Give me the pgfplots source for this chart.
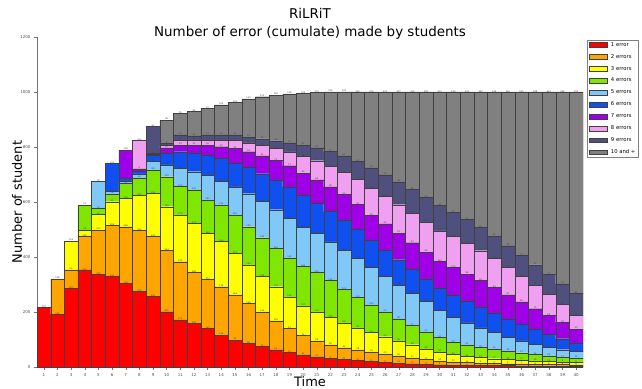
\documentclass[border=0pt]{standalone}
\usepackage{pgfplots}
\pgfplotsset{compat=1.18}
\usepackage{pgfplotstable}
\usepackage{fontspec}
\setmainfont{DejaVu Sans}

% one colour per error count
\definecolor{e1}{HTML}{FF0000}
\definecolor{e2}{HTML}{FFA500}
\definecolor{e3}{HTML}{FFFF00}
\definecolor{e4}{HTML}{7FE600}
\definecolor{e5}{HTML}{80C8F8}
\definecolor{e6}{HTML}{1050F0}
\definecolor{e7}{HTML}{A000E8}
\definecolor{e8}{HTML}{F0A0F0}
\definecolor{e9}{HTML}{50507F}
\definecolor{e10}{HTML}{808080}

% students per number of errors made so far, at each time step
\pgfplotstableread{
t  s1  s2  s3  s4  s5  s6  s7  s8  s9  s10
1  218 0   0   0   0   0   0   0   0   0
2  192 128 0   0   0   0   0   0   0   0
3  287 66  105 0   0   0   0   0   0   0
4  353 123 22  91  0   0   0   0   0   0
5  338 160 57  22  97  0   0   0   0   0
6  330 186 85  28  9   103 0   0   0   0
7  304 206 103 55  7   10  104 0   0   0
8  274 224 127 62  15  10  8   105 0   0
9  256 218 158 84  31  22  4   4   97  0
10 201 224 158 109 43  42  20  8   8   85
11 171 212 170 103 66  61  24  18  19  78
12 159 186 177 122 66  67  30  18  15  90
13 141 177 168 121 91  73  36  18  19  97
14 116 176 164 133 86  84  42  24  19  109
15 98  164 151 140 102 86  54  30  19  118
16 86  146 139 139 120 95  58  32  21  139
17 74  126 130 140 132 101 65  38  24  153
18 63  105 124 140 140 108 71  44  28  166
19 53  87  115 142 143 115 77  50  33  178
20 44  71  107 144 141 118 80  61  41  189
21 37  58  105 145 140 110 85  70  47  201
22 31  49  100 134 141 110 90  74  55  216
23 27  43  90  123 142 110 93  79  61  232
24 24  38  80  112 141 105 92  91  65  252
25 21  34  71  100 137 97  92  98  74  276
26 17  30  63  90  130 95  95  100 79  301
27 14  26  55  80  123 92  97  103 83  327
28 12  21  48  71  116 87  97  106 88  354
29 10  17  39  62  110 82  98  109 90  383
30 8   14  32  53  98  80  100 110 93  412
31 7   12  26  45  90  82  100 113 87  438
32 6   11  22  41  80  80  98  112 87  463
33 6   9   19  38  70  76  96  109 85  492
34 5   8   17  35  60  72  93  105 81  524
35 5   7   16  30  50  67  87  100 78  560
36 4   7   14  27  43  60  82  93  75  595
37 4   6   12  24  37  54  75  86  74  628
38 3   6   11  20  32  48  68  77  72  663
39 3   6   9   17  28  40  59  66  74  698
40 3   5   9   15  24  32  50  50  80  732
}\errtable

\pgfplotsset{
  errbar/.style={fill=#1, draw=black!75, line width=0.3bp,
    legend image code/.code={\draw[##1, line width=0.3bp] (0bp,-2.4bp) rectangle (18bp,2.4bp);}},
}

\begin{document}
\begin{tikzpicture}
\begin{axis}[
  at={(0,0)}, anchor=south west,
  scale only axis, width=546bp, height=330bp,
  ybar stacked, bar width=1,
  xmin=0.5, xmax=40.5, ymin=0, ymax=1200,
  enlargelimits=false,
  xtick={1,...,40}, ytick={0,200,...,1200},
  axis x line*=bottom, axis y line*=left,
  axis line style={black!55, line width=0.6bp, -},
  tick style={black!55, line width=0.4bp},
  tick align=outside, major tick length=3bp,
  /pgf/number format/assume math mode=true,
  /pgf/number format/set thousands separator={},
  ticklabel style={font=\fontsize{4}{4}\selectfont, text=black!70},
  % each segment carries its own count, in tiny print on its top edge
  visualization depends on=rawy \as \segh,
  nodes near coords={\pgfmathfloatifflags{\pgfplotspointmeta}{0}{}{\pgfmathprintnumber{\pgfplotspointmeta}}},
  every node near coord/.append style={font=\fontsize{2.2}{2.4}\selectfont,
    text=black!75, anchor=center, inner sep=0pt, yshift={0.1372*\segh+1}},
  xlabel={Time}, ylabel={Number of student},
  label style={font=\fontsize{13}{15}\selectfont},
  x label style={at={(axis description cs:0.5,-0.0455)}, anchor=center},
  y label style={at={(axis description cs:-0.0366,0.5)}, anchor=center},
  title={RiLRiT\\Number of error (cumulate) made by students},
  title style={at={(axis description cs:0.5,1.021)}, anchor=center, align=center,
    font=\fontsize{13.5}{18}\selectfont},
  legend style={at={(axis description cs:1.0073,0.991)}, anchor=north west,
    draw=black!50, line width=0.4bp, fill=white,
    font=\fontsize{5.3}{6}\selectfont, inner sep=2bp, row sep=6.3bp,
    nodes={inner sep=0.5bp, text height=3.6bp, text depth=1bp},
    /tikz/every odd column/.append style={column sep=3bp}},
  legend cell align=left,
]
\addplot[errbar=e1]  table[x=t, y=s1]  {\errtable};
\addplot[errbar=e2]  table[x=t, y=s2]  {\errtable};
\addplot[errbar=e3]  table[x=t, y=s3]  {\errtable};
\addplot[errbar=e4]  table[x=t, y=s4]  {\errtable};
\addplot[errbar=e5]  table[x=t, y=s5]  {\errtable};
\addplot[errbar=e6]  table[x=t, y=s6]  {\errtable};
\addplot[errbar=e7]  table[x=t, y=s7]  {\errtable};
\addplot[errbar=e8]  table[x=t, y=s8]  {\errtable};
\addplot[errbar=e9]  table[x=t, y=s9]  {\errtable};
\addplot[errbar=e10] table[x=t, y=s10] {\errtable};
\legend{1 error, 2 errors, 3 errors, 4 errors, 5 errors, 6 errors,
  7 errors, 8 errors, 9 errors, 10 and +}
\end{axis}
\pgfresetboundingbox
\useasboundingbox (-37bp,-22bp) rectangle (605bp,367bp);
\end{tikzpicture}
\end{document}
